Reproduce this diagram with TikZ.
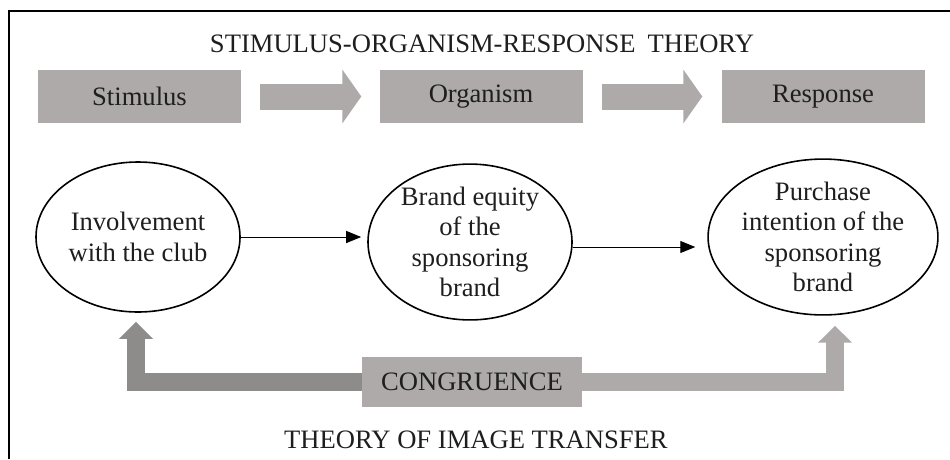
\documentclass[tikz,border=0pt]{standalone}
\usepackage{fontspec}
\setmainfont{Liberation Serif}
\usetikzlibrary{shapes.geometric,arrows.meta}

\definecolor{boxgray}{RGB}{173,170,169}
\definecolor{darkgray}{RGB}{142,140,139}
\definecolor{inkgray}{RGB}{30,30,30}

\tikzset{
  graybox/.style={fill=boxgray, draw=none, minimum width=203pt, minimum height=53pt,
    inner sep=0pt, text=inkgray, font=\fontsize{26.6}{30.5}\selectfont},
  blockarrow/.style={draw=boxgray, line width=26pt,
    -{Triangle[length=19pt,width=53pt]}},
  construct/.style={ellipse, draw=black, line width=1.6pt, inner sep=0pt, align=center,
    text=inkgray, font=\fontsize{26.6}{30.5}\selectfont},
  thinarrow/.style={draw=black, line width=1pt, -{Triangle[length=15pt,width=12pt]}},
  bentarrow/.style={line width=18pt, line join=miter,
    -{Triangle[length=17pt,width=33pt]}},
  heading/.style={anchor=base, inner sep=0pt, text=inkgray,
    font=\fontsize{26.6}{30.5}\selectfont}
}

\begin{document}
\begin{tikzpicture}[x=1pt,y=-1pt]
\useasboundingbox (0,0) rectangle (950,459);

% frame (top and left rules)
\draw[line width=2.2pt] (9,459) -- (9,11) -- (950,11);

% headings
\node[heading] (sortitle) at (482,52) {STIMULUS-ORGANISM-RESPONSE\hspace{0.45em}THEORY};
\node[heading] (ittitle) at (476,448) {THEORY OF IMAGE TRANSFER};

% S-O-R boxes
\node[graybox] (stim) at (139.5,96.5) {Stimulus};
\node[graybox] (org)  at (481,96.5)   {Organism};
\node[graybox] (resp) at (823,96.5)   {Response};

\draw[blockarrow] ([xshift=19pt]stim.east) -- ([xshift=-18pt]org.west);
\draw[blockarrow] ([xshift=19pt]org.east) -- ([xshift=-19pt]resp.west);

% constructs
\node[construct, minimum width=204pt, minimum height=150pt] (inv) at (138,237)
  {Involvement\\with the club};
\node[construct, minimum width=204pt, minimum height=155pt] (beq) at (470,242)
  {Brand equity\\of the\\sponsoring\\brand};
\node[construct, minimum width=226pt, minimum height=150pt] (pin) at (823,237)
  {Purchase\\intention of the\\sponsoring\\brand};

\draw[thinarrow, shorten >=6pt] (inv.east) -- (inv.east -| beq.west);
\coordinate (beqr) at ([yshift=-5pt]beq.east);
\draw[thinarrow, shorten >=12pt] (beqr) -- (beqr -| pin.west);

% congruence
\node[graybox, minimum width=220pt, minimum height=50pt] (cong) at (472,382) {CONGRUENCE};

\coordinate (invfoot) at ([xshift=-2pt]inv.south);
\coordinate (pinfoot) at ([xshift=12pt]pin.south);
\draw[bentarrow, draw=darkgray, shorten >=9pt] (cong.west) -| (invfoot);
\draw[bentarrow, draw=boxgray, shorten >=10pt] (cong.east) -| (pinfoot);
\end{tikzpicture}
\end{document}
